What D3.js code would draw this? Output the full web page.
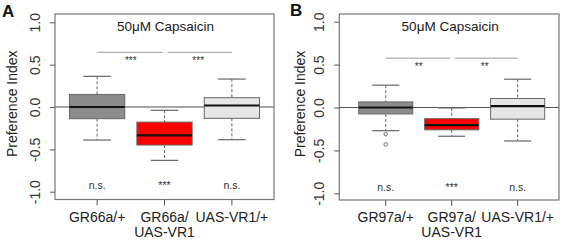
<!DOCTYPE html>
<html><head><meta charset="utf-8">
<script src="https://cdn.jsdelivr.net/npm/d3@7"></script>
<style>body{margin:0;background:#fff}svg{display:block}text{font-family:"Liberation Sans",Arial,sans-serif}</style>
</head><body>
<svg id="c" width="567" height="244"></svg>
<script>
// ---- data ----
const panelLabels = ["A", "B"];
const titleText = "50μM Capsaicin";
const yTicks = [1.0, 0.5, 0.0, -0.5, -1.0];
const yTickLabels = ["1.0", "0.5", "0.0", "-0.5", "-1.0"];
const yTitle = "Preference  Index";
const catsA = [["GR66a/+"], ["GR66a/", "UAS-VR1"], ["UAS-VR1/+"]];
const catsB = [["GR97a/+"], ["GR97a/", "UAS-VR1"], ["UAS-VR1/+"]];
const fills = ["#8c8c8c", "#ff0000", "#e6e6e6"];
// [whiskerLow, Q1, median, Q3, whiskerHigh]
const statsA = [
  [-0.39, -0.138, 0.0, 0.148, 0.362],
  [-0.63, -0.449, -0.334, -0.178, -0.039],
  [-0.386, -0.134, 0.018, 0.11, 0.33]
];
const statsB = [
  [-0.27, -0.075, 0.0, 0.065, 0.26],
  [-0.335, -0.26, -0.205, -0.13, -0.005],
  [-0.39, -0.136, 0.015, 0.105, 0.33]
];
const outliersA = [[], [], []];
const outliersB = [[-0.31, -0.43], [], []];
const bracketY = [0.646, 0.575];
const bracketSig = [["***", "***"], ["**", "**"]];
const bottomSig = [["n.s.", "***", "n.s."], ["n.s.", "***", "n.s."]];

const svg = d3.select("#c");

function panel(ox, cfg) {
  const g = svg.append("g").attr("transform", `translate(${ox},0)`);
  const L = cfg.L, R = cfg.R, T = 14, B = cfg.B;
  const y = d3.scaleLinear().domain([-1, 1]).range([cfg.y0, cfg.y1]);
  const x = d3.scaleBand().domain([0, 1, 2]).range(cfg.xr).paddingInner(0.18).paddingOuter(0);
  const cx = i => x(i) + x.bandwidth() / 2;
  const bw = x.bandwidth();

  // frame
  g.append("rect").attr("x", L).attr("y", T).attr("width", R - L).attr("height", B - T)
    .attr("fill", "none").attr("stroke", "#777").attr("stroke-width", 1.2);

  // y axis
  const ya = g.append("g").attr("transform", `translate(${L - 5},0)`)
    .call(d3.axisLeft(y).tickValues(yTicks).tickSize(5).tickFormat((d, i) => yTickLabels[i]));
  ya.select(".domain").remove();
  ya.selectAll("line").attr("stroke", "#555").attr("transform", "translate(5,0)");
  ya.selectAll("text").attr("font-size", 14).attr("fill", "#333")
    .attr("x", 0).attr("dy", 0)
    .attr("text-anchor", "middle")
    .attr("transform", "translate(-15,0) rotate(-90)")
    .attr("dominant-baseline", "central");

  // y title
  g.append("text").attr("transform", `translate(${cfg.tx},${(T + B) / 2 - 3}) rotate(-90)`)
    .attr("text-anchor", "middle").attr("dominant-baseline", "central")
    .attr("font-size", 14).attr("fill", "#222").text(yTitle);

  // x axis ticks
  const xa = g.append("g").attr("transform", `translate(0,${B})`)
    .call(d3.axisBottom(x).tickSize(6).tickFormat(""));
  xa.select(".domain").remove();
  xa.selectAll("line").attr("stroke", "#555");
  cfg.cats.forEach((lines, i) => {
    lines.forEach((t, j) => {
      g.append("text").attr("x", cx(i)).attr("y", 222 + j * 15)
        .attr("text-anchor", "middle").attr("font-size", 14).attr("fill", "#222").text(t);
    });
  });

  // title
  g.append("text").attr("x", (L + R) / 2 + 1).attr("y", 31).attr("text-anchor", "middle")
    .attr("font-size", 13.5).attr("fill", "#222").text(titleText);

  // zero line
  g.append("line").attr("x1", L).attr("x2", R).attr("y1", y(0)).attr("y2", y(0))
    .attr("stroke", cfg.zc).attr("stroke-width", cfg.zw);

  // boxes
  cfg.stats.forEach((s, i) => {
    const c = cx(i);
    const bg = g.append("g");
    bg.append("line").attr("x1", c).attr("x2", c).attr("y1", y(s[4])).attr("y2", y(s[3]))
      .attr("stroke", "#666").attr("stroke-dasharray", "3,2");
    bg.append("line").attr("x1", c).attr("x2", c).attr("y1", y(s[1])).attr("y2", y(s[0]))
      .attr("stroke", "#666").attr("stroke-dasharray", "3,2");
    [s[0], s[4]].forEach(v => bg.append("line").attr("x1", c - bw / 4).attr("x2", c + bw / 4)
      .attr("y1", y(v)).attr("y2", y(v)).attr("stroke", "#666").attr("stroke-width", 1.2));
    bg.append("rect").attr("x", x(i)).attr("width", bw).attr("y", y(s[3])).attr("height", y(s[1]) - y(s[3]))
      .attr("fill", fills[i]).attr("stroke", "#666").attr("stroke-width", 1);
    bg.append("line").attr("x1", x(i)).attr("x2", x(i) + bw).attr("y1", y(s[2])).attr("y2", y(s[2]))
      .attr("stroke", "#111").attr("stroke-width", 2.2);
    cfg.out[i].forEach(v => bg.append("circle").attr("cx", c).attr("cy", y(v)).attr("r", 1.8)
      .attr("fill", "none").attr("stroke", "#666").attr("stroke-width", 0.9));
  });

  // brackets
  [[0, 1], [1, 2]].forEach(([a, b], k) => {
    const x1 = cx(a) + (k === 1 ? 3 : 0), x2 = cx(b) - (k === 0 ? 1.5 : 0);
    g.append("line").attr("x1", x1).attr("x2", x2).attr("y1", y(cfg.by)).attr("y2", y(cfg.by))
      .attr("stroke", "#999").attr("stroke-width", 1);
    g.append("text").attr("x", (cx(a) + cx(b)) / 2).attr("y", y(cfg.by) + 12)
      .attr("text-anchor", "middle").attr("font-size", 10).attr("fill", "#333").text(cfg.bsig[k]);
  });
  // bottom sig
  cfg.bot.forEach((t, i) => g.append("text").attr("x", cx(i)).attr("y", y(-1) - 2.5)
    .attr("text-anchor", "middle").attr("font-size", 10.5).attr("fill", "#333").text(t));

  // panel label
  g.append("text").attr("x", cfg.lx).attr("y", cfg.ly).attr("font-size", 17).attr("font-weight", "bold")
    .attr("fill", "#111").text(cfg.label);
}

panel(0, { L: 55, R: 274, B: 199.5, y0: 191.7, y1: 22.3, xr: [69.5, 259.5], tx: 12, zc: "#888", zw: 1.5,
  cats: catsA, stats: statsA, out: outliersA, by: bracketY[0],
  bsig: bracketSig[0], bot: bottomSig[0], label: panelLabels[0], lx: 2, ly: 17 });
panel(285, { L: 54.3, R: 274, B: 200, y0: 193.3, y1: 21.7, xr: [73.7, 259.7], tx: 15, zc: "#555", zw: 1,
  cats: catsB, stats: statsB, out: outliersB, by: bracketY[1],
  bsig: bracketSig[1], bot: bottomSig[1], label: panelLabels[1], lx: 5, ly: 16 });
</script>
</body></html>
